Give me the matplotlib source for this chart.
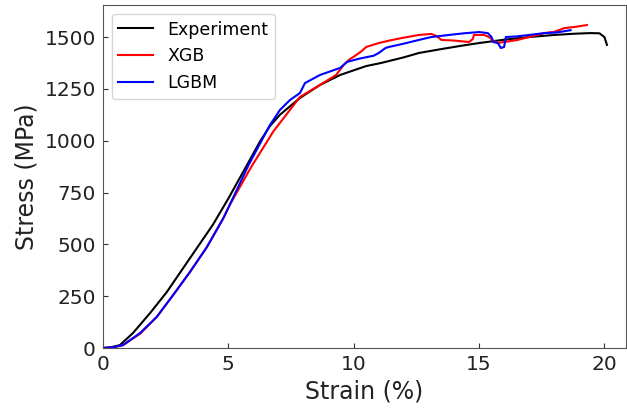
import matplotlib.pyplot as plt
import numpy as np

# strain (%) / stress (MPa)
exp_strain = [0, 0.3, 0.68, 1.2, 1.88, 2.55, 3.2, 3.88, 4.39, 5.0, 5.86, 6.26, 6.66, 7.06, 7.86,
              8.66, 9.46, 10.5, 11.1, 12.0, 12.6, 13.5, 14.3, 15.0, 16.0, 17.0, 18.0, 18.8,
              19.44, 19.8, 20.0, 20.1]
exp_stress = [0, 3, 14, 72, 168, 270, 385, 505, 595, 720, 907, 995, 1070, 1125, 1206,
              1269, 1317, 1360, 1375, 1402, 1423, 1442, 1458, 1471, 1487, 1500, 1510, 1516,
              1519, 1518, 1500, 1462]

xgb_strain = [0, 0.4, 0.8, 1.5, 2.15, 2.8, 3.47, 4.15, 4.8, 5.06, 5.9, 6.8, 7.86, 8.66,
              9.3, 9.6, 9.8, 10.0, 10.3, 10.5, 11.0, 11.5, 12.0, 12.6, 13.1, 13.3, 13.5, 14.0,
              14.6, 14.75, 14.8, 15.2, 15.4, 15.6, 15.75, 16.0, 16.5, 17.0, 17.6, 18.0, 18.4, 18.9, 19.3]
xgb_stress = [0, 3, 13, 70, 150, 255, 366, 487, 625, 690, 870, 1045, 1211, 1269,
              1317, 1365, 1389, 1405, 1430, 1452, 1471, 1485, 1497, 1510, 1515, 1505, 1486, 1483,
              1476, 1490, 1510, 1510, 1500, 1480, 1471, 1476, 1485, 1500, 1519, 1525, 1543, 1550, 1558]

lgbm_strain = [0, 0.4, 0.8, 1.48, 2.15, 2.8, 3.47, 4.15, 4.8, 4.94, 5.8, 6.66, 7.06, 7.46,
               7.86, 8.06, 8.66, 9.46, 9.74, 10.2, 10.8, 11.0, 11.27, 11.4, 12.0, 12.6, 13.1, 13.8,
               14.4, 15.0, 15.35, 15.5, 15.56, 15.75, 15.87, 16.0, 16.07, 16.5, 17.0, 17.6, 18.1, 18.65]
lgbm_stress = [0, 4, 14, 72, 150, 255, 366, 487, 625, 660, 880, 1075, 1148, 1196,
               1230, 1278, 1317, 1351, 1380, 1395, 1410, 1423, 1447, 1452, 1468, 1486, 1500, 1510,
               1518, 1524, 1519, 1500, 1476, 1471, 1447, 1452, 1500, 1503, 1510, 1519, 1522, 1533]

fig = plt.figure(figsize=(6.27, 4.08), dpi=100)
ax = fig.add_axes([0.164, 0.147, 0.834, 0.841])

ax.plot(exp_strain, exp_stress, color='black', lw=1.5, label='Experiment')
ax.plot(xgb_strain, xgb_stress, color='red', lw=1.5, label='XGB')
ax.plot(lgbm_strain, lgbm_stress, color='blue', lw=1.5, label='LGBM')

ax.set_xlim(0, 20.85)
ax.set_ylim(0, 1655)
ax.set_xticks([0, 5, 10, 15, 20])
ax.set_yticks([0, 250, 500, 750, 1000, 1250, 1500])
ax.tick_params(direction='in', labelsize=14.5, pad=5, colors='#333333', labelcolor='#222222')
for s in ax.spines.values():
    s.set_color('#555555')
ax.set_xlabel('Strain (%)', fontsize=17, color='#222222')
ax.set_ylabel('Stress (MPa)', fontsize=17, color='#222222')
ax.legend(loc='upper left', fontsize=12.5)

fig.savefig('out.png', dpi=100)
